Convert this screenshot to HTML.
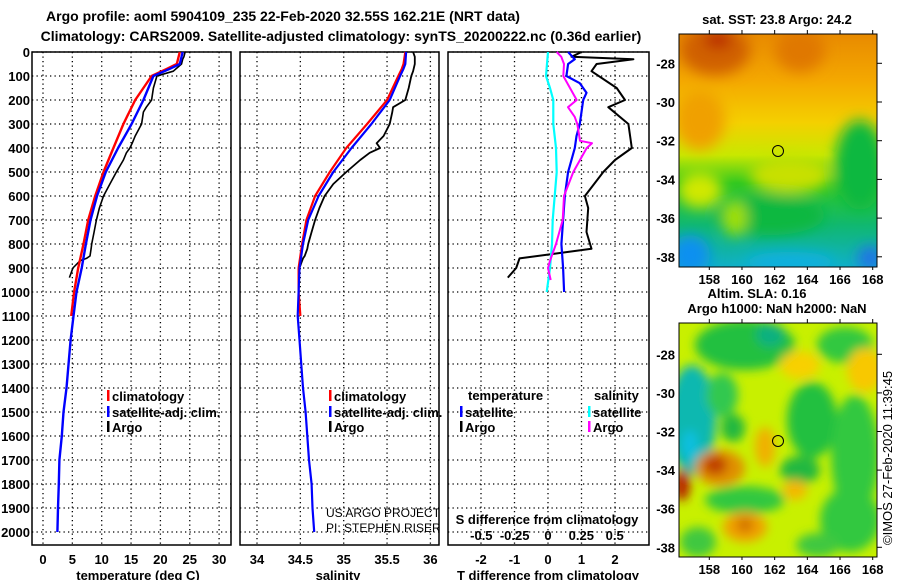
<!DOCTYPE html>
<html><head><meta charset="utf-8"><style>
html,body{margin:0;padding:0;background:#fff;}
svg{display:block;font-family:"Liberation Sans",Arial,sans-serif;}
.b{font-weight:bold;}
</style></head><body>
<svg id="c" width="900" height="580" viewBox="0 0 900 580" xmlns="http://www.w3.org/2000/svg">
<defs>
<filter id="bl" x="-50%" y="-50%" width="200%" height="200%"><feGaussianBlur stdDeviation="7"/></filter>
<filter id="bl2" x="-50%" y="-50%" width="200%" height="200%"><feGaussianBlur stdDeviation="5"/></filter>
<clipPath id="m1"><rect x="679" y="34" width="198" height="233"/></clipPath>
<clipPath id="m2"><rect x="679" y="323" width="198" height="234"/></clipPath>
<clipPath id="p2"><rect x="240" y="40" width="199" height="510"/></clipPath>
<linearGradient id="sstg" x1="0" y1="0" x2="0" y2="1">
<stop offset="0" stop-color="#e88a00"/><stop offset="0.2" stop-color="#f4a800"/><stop offset="0.38" stop-color="#f4d000"/>
<stop offset="0.52" stop-color="#c8e800"/><stop offset="0.64" stop-color="#30c820"/><stop offset="0.82" stop-color="#10b870"/><stop offset="1" stop-color="#10b0c8"/></linearGradient>
</defs>
<text class="b" x="283" y="21" font-size="14" text-anchor="middle">Argo profile: aoml 5904109_235 22-Feb-2020 32.55S 162.21E (NRT data)</text>
<text class="b" x="341" y="41" font-size="14" text-anchor="middle">Climatology: CARS2009. Satellite-adjusted climatology: synTS_20200222.nc (0.36d earlier)</text>

<g id="map1" clip-path="url(#m1)">
<rect x="679" y="34" width="198" height="233" fill="url(#sstg)"/>
<g filter="url(#bl)">
<ellipse cx="715" cy="50" rx="35" ry="25" fill="#d06000"/>
<ellipse cx="718" cy="40" rx="14" ry="8" fill="#b82000"/>
<ellipse cx="800" cy="50" rx="25" ry="22" fill="#e07800"/>
<ellipse cx="700" cy="120" rx="25" ry="30" fill="#f0a000"/>
<ellipse cx="860" cy="165" rx="25" ry="45" fill="#10b840"/>
<ellipse cx="790" cy="175" rx="40" ry="18" fill="#c8e000"/>
<ellipse cx="700" cy="190" rx="22" ry="18" fill="#d0e800"/>
<ellipse cx="770" cy="215" rx="55" ry="20" fill="#10b840"/>
<ellipse cx="735" cy="218" rx="12" ry="18" fill="#a0e000"/>
<ellipse cx="690" cy="255" rx="20" ry="20" fill="#1090f0"/>
<ellipse cx="790" cy="262" rx="45" ry="10" fill="#10b0e0"/>
<ellipse cx="870" cy="258" rx="12" ry="12" fill="#2070e8"/>
</g>
</g>
<rect x="679" y="34" width="198" height="233" fill="none" stroke="#000"/>
<circle cx="778" cy="151" r="5.5" fill="none" stroke="#000"/>
<text class="b" x="777" y="24" font-size="13" text-anchor="middle">sat. SST: 23.8 Argo: 24.2</text>
<text class="b" x="757" y="298" font-size="13" text-anchor="middle">Altim. SLA: 0.16</text>
<text class="b" x="777" y="313" font-size="13" text-anchor="middle">Argo h1000: NaN h2000: NaN</text>

<g id="map2" clip-path="url(#m2)">
<rect x="679" y="323" width="198" height="234" fill="#c8f000"/>
<g filter="url(#bl2)">
<ellipse cx="745" cy="345" rx="50" ry="25" fill="#20c040"/>
<ellipse cx="770" cy="335" rx="14" ry="12" fill="#10b080"/>
<ellipse cx="845" cy="345" rx="28" ry="18" fill="#30c840"/>
<ellipse cx="692" cy="420" rx="24" ry="55" fill="#10b8b0"/>
<ellipse cx="690" cy="445" rx="8" ry="15" fill="#10c0e0"/>
<ellipse cx="722" cy="395" rx="16" ry="22" fill="#30c850"/>
<ellipse cx="733" cy="428" rx="12" ry="14" fill="#20b840"/>
<ellipse cx="812" cy="420" rx="25" ry="38" fill="#20c040"/>
<ellipse cx="855" cy="455" rx="24" ry="60" fill="#30c840"/>
<ellipse cx="800" cy="470" rx="20" ry="14" fill="#20b840"/>
<ellipse cx="800" cy="365" rx="20" ry="14" fill="#f8d000"/>
<ellipse cx="865" cy="370" rx="18" ry="22" fill="#f8c800"/>
<ellipse cx="765" cy="447" rx="10" ry="20" fill="#f0b000"/>
<ellipse cx="720" cy="468" rx="25" ry="18" fill="#e09000"/>
<ellipse cx="715" cy="465" rx="12" ry="10" fill="#c04000"/>
<ellipse cx="682" cy="485" rx="8" ry="16" fill="#b82000"/>
<ellipse cx="745" cy="500" rx="40" ry="14" fill="#30c840"/>
<ellipse cx="795" cy="490" rx="12" ry="10" fill="#f4b800"/>
<ellipse cx="745" cy="527" rx="22" ry="15" fill="#f0a000"/>
<ellipse cx="745" cy="525" rx="8" ry="7" fill="#d07000"/>
<ellipse cx="850" cy="520" rx="30" ry="32" fill="#30c840"/>
<ellipse cx="698" cy="542" rx="18" ry="15" fill="#40c840"/>
<ellipse cx="818" cy="545" rx="22" ry="12" fill="#40c840"/>
</g>
</g>
<rect x="679" y="323" width="198" height="234" fill="none" stroke="#000"/>
<circle cx="778" cy="441" r="5.5" fill="none" stroke="#000"/>
<text x="892" y="545" font-size="13" transform="rotate(-90 892 545)">©IMOS 27-Feb-2020 11:39:45</text>
<g id="axes"></g>
</svg>
<script>
// depth grid for each profile (m)
const depthArgo = [0,20,30,50,80,100,150,200,230,250,300,350,380,400,420,450,500,550,600,650,700,750,800,820,850,860,870,900,940];
const depthClim = [0,50,70,100,200,300,400,500,600,700,800,900,1000,1100];
const depthSat = [0,50,70,100,200,300,400,500,600,700,800,900,1000,1100,1200,1400,1500,1600,1700,1800,1900,2000];
// temperature profiles (deg C)
const tArgo = [24.2,24.0,23.8,23.6,22.2,19.4,18.8,18.5,17.6,17.1,16.8,15.7,15.2,14.8,14.2,13.7,12.5,11.4,10.3,9.6,9.1,8.7,8.3,8.2,8.0,7.4,6.3,5.1,4.5];
const tClim = [23.3,22.8,21.1,18.5,15.7,13.7,12.0,10.3,8.9,7.7,6.9,6.0,5.3,4.8];
const tSat = [23.8,23.3,21.6,18.8,17.1,15.1,12.8,10.7,9.2,8.1,7.3,6.6,5.7,5.2,4.7,4.0,3.5,3.2,2.8,2.7,2.55,2.45];
// salinity profiles
const sArgo = [35.80,35.82,35.82,35.82,35.80,35.78,35.75,35.71,35.57,35.56,35.53,35.46,35.38,35.42,35.30,35.19,35.03,34.88,34.78,34.72,34.67,34.63,34.59,34.58,34.55,34.53,34.52,34.49,34.48];
const sClim = [35.71,35.69,35.67,35.63,35.50,35.27,35.03,34.84,34.67,34.57,34.52,34.48,34.48,34.50];
const sSat = [35.72,35.71,35.69,35.65,35.53,35.32,35.09,34.88,34.71,34.59,34.53,34.49,34.48,34.47,34.49,34.53,34.56,34.58,34.60,34.63,34.64,34.66];
// difference profiles
const depthTdA = [0,20,30,50,80,150,200,230,300,350,400,450,500,600,650,750,820,860,900,940];
const tDiffArgo = [1.0,0.7,2.55,1.45,1.3,2.05,2.3,1.8,2.4,2.45,2.5,2.0,1.65,1.1,1.2,1.15,1.3,-0.85,-0.95,-1.2];
const depthTdS = [0,30,50,100,130,170,200,300,350,400,500,600,700,800,900,1000];
const tDiffSat = [0.6,0.8,0.6,0.55,0.95,1.15,1.05,0.95,0.85,0.8,0.6,0.5,0.45,0.4,0.45,0.48];
const depthSdS = [0,100,150,200,300,400,500,600,700,800,900,1000];
const sDiffSat = [0.0,-0.015,0.015,0.04,0.04,0.06,0.065,0.05,0.035,0.03,0.015,-0.01];
const depthSdA = [0,20,50,100,150,200,230,270,300,370,380,400,500,600,700,800,870,900,950];
const sDiffArgo = [0.065,0.1,0.12,0.115,0.165,0.215,0.15,0.2,0.22,0.24,0.33,0.29,0.19,0.12,0.11,0.06,0.015,0.0,0.02];
// tick labels
const depthTicks = [0,100,200,300,400,500,600,700,800,900,1000,1100,1200,1300,1400,1500,1600,1700,1800,1900,2000];
const tTicks = [0,5,10,15,20,25,30];
const sTicks = [34,34.5,35,35.5,36];
const tdTicks = [-2,-1,0,1,2];
const sdTicks = [-0.5,-0.25,0,0.25,0.5];
const latTicks = [-28,-30,-32,-34,-36,-38];
const lonTicks = [158,160,162,164,166,168];

const NS='http://www.w3.org/2000/svg';
const g=document.getElementById('axes');
function mk(tag,attrs,parent){const e=document.createElementNS(NS,tag);for(const k in attrs)e.setAttribute(k,attrs[k]);(parent||g).appendChild(e);return e;}
const yD=d=>52+d*0.24;
const xT=v=>43+v*5.87;
const xS=v=>257+(v-34)*86.7;
const xTd=v=>548+v*33.5;
const xSd=v=>548+v*133.3;
const latY1=v=>63.3+(-28-v)*19.35;
const latY2=v=>354.3+(-28-v)*19.3;
const lonX=v=>709.3+(v-158)*16.34;
const panels=[[32,231],[240,439],[448,649]];

function grid(x0,x1,xs){
  depthTicks.forEach(d=>{
    const l=mk('line',{x1:x0,x2:x1,y1:yD(d),y2:yD(d),stroke:'#000','stroke-width':1.3,'stroke-dasharray':'1.3,3.2'});
    
    
  });
  xs.forEach(x=>{
    const l=mk('line',{x1:x,x2:x,y1:52,y2:545,stroke:'#000','stroke-width':1.3,'stroke-dasharray':'1.3,3.2'});
    
    
  });
}
grid(32,231,tTicks.map(xT));
grid(240,439,sTicks.map(xS));
grid(448,649,tdTicks.map(xTd));

panels.forEach((p,i)=>{
  const r=mk('rect',{x:p[0],y:52,width:p[1]-p[0],height:493,fill:'none',stroke:'#000','stroke-width':1.5});
  
  
});

depthTicks.forEach(d=>{
  const t=mk('text',{x:30,y:yD(d)+5,'font-size':13,'font-weight':'bold','text-anchor':'end'});
  t.textContent=d;
  
  
});
function xlab(arr,fx,y,fs){arr.forEach(v=>{
  const t=mk('text',{x:fx(v),y:y,'font-size':fs,'font-weight':'bold','text-anchor':'middle'});
  t.textContent=v;
  
  
});}
xlab(tTicks,xT,564,13);xlab(sTicks,xS,564,13);xlab(tdTicks,xTd,564,13);
xlab(sdTicks,xSd,540,13);
function title(x,y,s,name){const t=mk('text',{x:x,y:y,'font-size':13,'font-weight':'bold','text-anchor':'middle'});t.textContent=s;
  
  }
title(138,580,'temperature (deg C)','temperature-axis-title');
title(338,580,'salinity','salinity-axis-title');
title(548,580,'T difference from climatology','tdiff-axis-title');
title(547,524,'S difference from climatology','sdiff-axis-title');

function line(ds,vs,fx,col,w,name){
  const pts=ds.map((d,i)=>fx(vs[i]).toFixed(1)+','+yD(d).toFixed(1)).join(' ');
  const l=mk('polyline',{points:pts,fill:'none',stroke:col,'stroke-width':w,'stroke-linejoin':'round'});
  
  
}
line(depthArgo,tArgo,xT,'#000',1.6,'temp-argo-line');
line(depthClim,tClim,xT,'#f00',2.4,'temp-climatology-line');
line(depthSat,tSat,xT,'#00f',2.4,'temp-satellite-line');
line(depthArgo,sArgo,xS,'#000',1.8,'sal-argo-line');
line(depthClim,sClim,xS,'#f00',2.2,'sal-climatology-line');
line(depthSat,sSat,xS,'#00f',2.2,'sal-satellite-line');
line(depthTdA,tDiffArgo,xTd,'#000',2,'tdiff-argo-line');
line(depthTdS,tDiffSat,xTd,'#00f',2.2,'tdiff-satellite-line');
line(depthSdS,sDiffSat,xSd,'#0ff',2.2,'sdiff-satellite-line');
line(depthSdA,sDiffArgo,xSd,'#f0f',2,'sdiff-argo-line');

function leg(x,y,col,txt,name){
  const r=mk('rect',{x:x,y:y-6,width:2.5,height:11,fill:col});
  
  
  const t=mk('text',{x:x+5,y:y+5,'font-size':13,'font-weight':'bold'});t.textContent=txt;
  
  
}
leg(107,396,'#f00','climatology','legend-temp-climatology');
leg(107,412,'#00f','satellite-adj. clim.','legend-temp-satellite');
leg(107,427,'#000','Argo','legend-temp-argo');
leg(329,396,'#f00','climatology','legend-sal-climatology');
leg(329,412,'#00f','satellite-adj. clim.','legend-sal-satellite');
leg(329,427,'#000','Argo','legend-sal-argo');
leg(460,412,'#00f','satellite','legend-tdiff-satellite');
leg(460,427,'#000','Argo','legend-tdiff-argo');
leg(588,412,'#0ff','satellite','legend-sdiff-satellite');
leg(588,427,'#f0f','Argo','legend-sdiff-argo');
const lt1=mk('text',{x:468,y:400,'font-size':13,'font-weight':'bold'});lt1.textContent='temperature';


const lt2=mk('text',{x:594,y:400,'font-size':13,'font-weight':'bold'});lt2.textContent='salinity';


const c1=mk('text',{x:326,y:517,'font-size':12,'clip-path':'url(#p2)'});c1.textContent='US ARGO PROJECT';


const c2=mk('text',{x:326,y:532,'font-size':12,'clip-path':'url(#p2)'});c2.textContent='PI: STEPHEN RISER';



function mapAxes(fy,top,bot,lonLabels){
  latTicks.forEach(v=>{
    const y=fy(v);
    mk('line',{x1:877,x2:882,y1:y,y2:y,stroke:'#000'});
    const t=mk('text',{x:675,y:y+5,'font-size':13,'font-weight':'bold','text-anchor':'end'});t.textContent=v;
    
    
  });
  lonTicks.forEach(v=>{
    const x=lonX(v);
    mk('line',{x1:x,x2:x,y1:top-4,y2:top,stroke:'#000'});
    mk('line',{x1:x,x2:x,y1:bot,y2:bot+3,stroke:'#000'});
    if(lonLabels){const t=mk('text',{x:x,y:bot+17,'font-size':13,'font-weight':'bold','text-anchor':'middle'});t.textContent=v;
    
    }
  });
}
mapAxes(latY1,34,267,true);
mapAxes(latY2,323,557,true);
</script>
</body></html>
